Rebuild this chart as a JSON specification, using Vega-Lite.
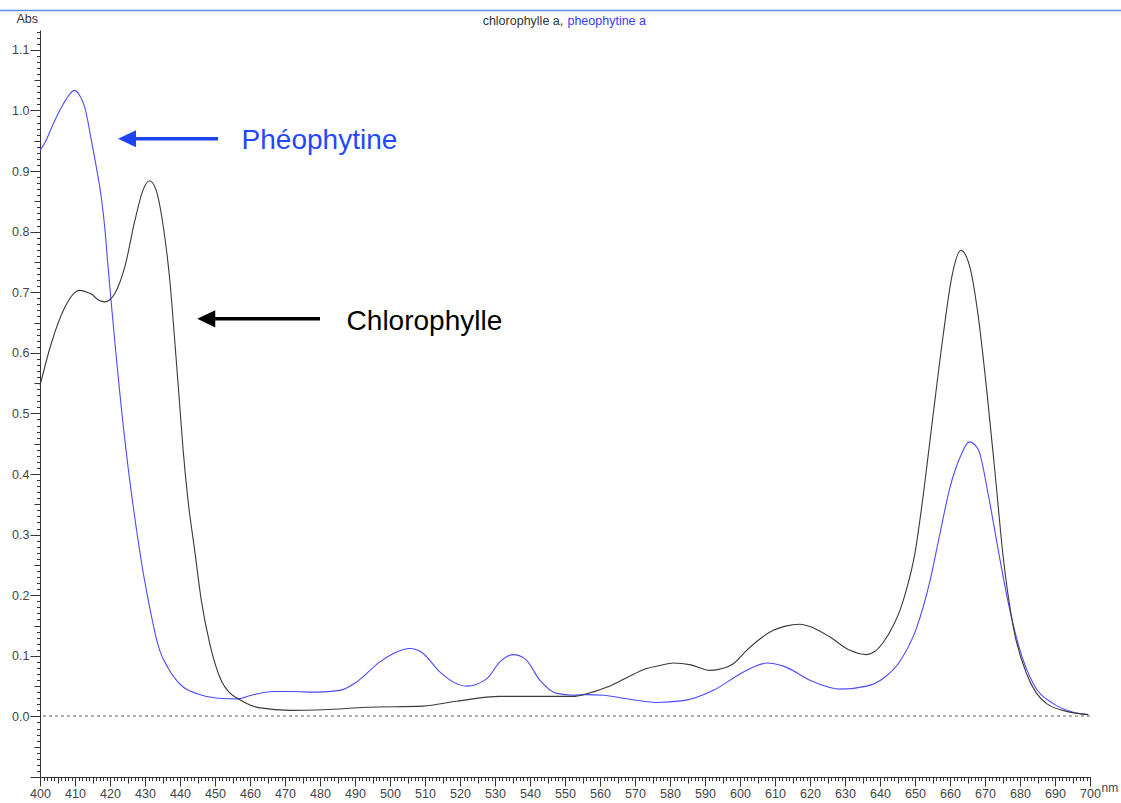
{
  "$schema": "https://vega.github.io/schema/vega-lite/v6.json",
  "width": 1050,
  "height": 747,
  "autosize": "none",
  "padding": {"left": 40, "top": 30, "right": 31, "bottom": 26},
  "background": "white",
  "config": {"view": {"stroke": null}, "font": "Liberation Sans", "axis": {"grid": false}},
  "datasets": {
    "spectra": [
      {"pigment": "pheophytine a", "nm": 400, "abs": 0.934},
      {"pigment": "pheophytine a", "nm": 401.5, "abs": 0.948},
      {"pigment": "pheophytine a", "nm": 403.8, "abs": 0.978},
      {"pigment": "pheophytine a", "nm": 406.7, "abs": 1.011},
      {"pigment": "pheophytine a", "nm": 408.5, "abs": 1.027},
      {"pigment": "pheophytine a", "nm": 409.8, "abs": 1.033},
      {"pigment": "pheophytine a", "nm": 411.3, "abs": 1.025},
      {"pigment": "pheophytine a", "nm": 412.8, "abs": 1.005},
      {"pigment": "pheophytine a", "nm": 414.7, "abs": 0.95},
      {"pigment": "pheophytine a", "nm": 416.1, "abs": 0.906},
      {"pigment": "pheophytine a", "nm": 417.5, "abs": 0.857},
      {"pigment": "pheophytine a", "nm": 418.5, "abs": 0.807},
      {"pigment": "pheophytine a", "nm": 419.4, "abs": 0.745},
      {"pigment": "pheophytine a", "nm": 420.4, "abs": 0.68},
      {"pigment": "pheophytine a", "nm": 421.4, "abs": 0.617},
      {"pigment": "pheophytine a", "nm": 422.4, "abs": 0.557},
      {"pigment": "pheophytine a", "nm": 423.4, "abs": 0.5},
      {"pigment": "pheophytine a", "nm": 424.4, "abs": 0.448},
      {"pigment": "pheophytine a", "nm": 425.4, "abs": 0.4},
      {"pigment": "pheophytine a", "nm": 426.4, "abs": 0.356},
      {"pigment": "pheophytine a", "nm": 427.4, "abs": 0.315},
      {"pigment": "pheophytine a", "nm": 428.4, "abs": 0.276},
      {"pigment": "pheophytine a", "nm": 429.4, "abs": 0.24},
      {"pigment": "pheophytine a", "nm": 430.4, "abs": 0.208},
      {"pigment": "pheophytine a", "nm": 431.4, "abs": 0.178},
      {"pigment": "pheophytine a", "nm": 432.4, "abs": 0.15},
      {"pigment": "pheophytine a", "nm": 433.3, "abs": 0.127},
      {"pigment": "pheophytine a", "nm": 434.2, "abs": 0.109},
      {"pigment": "pheophytine a", "nm": 436.6, "abs": 0.08},
      {"pigment": "pheophytine a", "nm": 440.4, "abs": 0.051},
      {"pigment": "pheophytine a", "nm": 445.1, "abs": 0.037},
      {"pigment": "pheophytine a", "nm": 450.9, "abs": 0.03},
      {"pigment": "pheophytine a", "nm": 456.6, "abs": 0.029},
      {"pigment": "pheophytine a", "nm": 460.4, "abs": 0.035},
      {"pigment": "pheophytine a", "nm": 466.7, "abs": 0.041},
      {"pigment": "pheophytine a", "nm": 472.0, "abs": 0.041},
      {"pigment": "pheophytine a", "nm": 479.0, "abs": 0.04},
      {"pigment": "pheophytine a", "nm": 485.7, "abs": 0.043},
      {"pigment": "pheophytine a", "nm": 490.5, "abs": 0.057},
      {"pigment": "pheophytine a", "nm": 497.1, "abs": 0.09},
      {"pigment": "pheophytine a", "nm": 501.0, "abs": 0.104},
      {"pigment": "pheophytine a", "nm": 505.7, "abs": 0.112},
      {"pigment": "pheophytine a", "nm": 509.0, "abs": 0.106},
      {"pigment": "pheophytine a", "nm": 514.3, "abs": 0.073},
      {"pigment": "pheophytine a", "nm": 518.0, "abs": 0.057},
      {"pigment": "pheophytine a", "nm": 521.9, "abs": 0.05},
      {"pigment": "pheophytine a", "nm": 527.6, "abs": 0.062},
      {"pigment": "pheophytine a", "nm": 531.4, "abs": 0.09},
      {"pigment": "pheophytine a", "nm": 535.2, "abs": 0.102},
      {"pigment": "pheophytine a", "nm": 538.6, "abs": 0.095},
      {"pigment": "pheophytine a", "nm": 542.9, "abs": 0.059},
      {"pigment": "pheophytine a", "nm": 547.6, "abs": 0.038},
      {"pigment": "pheophytine a", "nm": 552.4, "abs": 0.035},
      {"pigment": "pheophytine a", "nm": 556.0, "abs": 0.036},
      {"pigment": "pheophytine a", "nm": 561.0, "abs": 0.035},
      {"pigment": "pheophytine a", "nm": 567.6, "abs": 0.029},
      {"pigment": "pheophytine a", "nm": 576.2, "abs": 0.023},
      {"pigment": "pheophytine a", "nm": 583.8, "abs": 0.026},
      {"pigment": "pheophytine a", "nm": 592.4, "abs": 0.043},
      {"pigment": "pheophytine a", "nm": 600.0, "abs": 0.07},
      {"pigment": "pheophytine a", "nm": 604.0, "abs": 0.082},
      {"pigment": "pheophytine a", "nm": 607.6, "abs": 0.088},
      {"pigment": "pheophytine a", "nm": 612.4, "abs": 0.083},
      {"pigment": "pheophytine a", "nm": 621.0, "abs": 0.057},
      {"pigment": "pheophytine a", "nm": 628.6, "abs": 0.045},
      {"pigment": "pheophytine a", "nm": 636.2, "abs": 0.05},
      {"pigment": "pheophytine a", "nm": 641.0, "abs": 0.063},
      {"pigment": "pheophytine a", "nm": 645.7, "abs": 0.091},
      {"pigment": "pheophytine a", "nm": 650.5, "abs": 0.147},
      {"pigment": "pheophytine a", "nm": 654.3, "abs": 0.224},
      {"pigment": "pheophytine a", "nm": 657.1, "abs": 0.301},
      {"pigment": "pheophytine a", "nm": 660.0, "abs": 0.378},
      {"pigment": "pheophytine a", "nm": 662.9, "abs": 0.428},
      {"pigment": "pheophytine a", "nm": 665.5, "abs": 0.453},
      {"pigment": "pheophytine a", "nm": 668.1, "abs": 0.44},
      {"pigment": "pheophytine a", "nm": 670.9, "abs": 0.367},
      {"pigment": "pheophytine a", "nm": 673.8, "abs": 0.274},
      {"pigment": "pheophytine a", "nm": 676.7, "abs": 0.186},
      {"pigment": "pheophytine a", "nm": 680.0, "abs": 0.109},
      {"pigment": "pheophytine a", "nm": 683.8, "abs": 0.054},
      {"pigment": "pheophytine a", "nm": 689.5, "abs": 0.021},
      {"pigment": "pheophytine a", "nm": 695.2, "abs": 0.007},
      {"pigment": "pheophytine a", "nm": 699.5, "abs": 0.003},
      {"pigment": "chlorophylle a", "nm": 400, "abs": 0.546},
      {"pigment": "chlorophylle a", "nm": 403.2, "abs": 0.615},
      {"pigment": "chlorophylle a", "nm": 407.1, "abs": 0.675},
      {"pigment": "chlorophylle a", "nm": 409.5, "abs": 0.697},
      {"pigment": "chlorophylle a", "nm": 411.3, "abs": 0.703},
      {"pigment": "chlorophylle a", "nm": 413.0, "abs": 0.701},
      {"pigment": "chlorophylle a", "nm": 414.7, "abs": 0.697},
      {"pigment": "chlorophylle a", "nm": 416.5, "abs": 0.688},
      {"pigment": "chlorophylle a", "nm": 418.5, "abs": 0.684},
      {"pigment": "chlorophylle a", "nm": 420.0, "abs": 0.688},
      {"pigment": "chlorophylle a", "nm": 421.3, "abs": 0.697},
      {"pigment": "chlorophylle a", "nm": 422.8, "abs": 0.716},
      {"pigment": "chlorophylle a", "nm": 424.2, "abs": 0.741},
      {"pigment": "chlorophylle a", "nm": 427.1, "abs": 0.818},
      {"pigment": "chlorophylle a", "nm": 429.4, "abs": 0.868},
      {"pigment": "chlorophylle a", "nm": 431.3, "abs": 0.884},
      {"pigment": "chlorophylle a", "nm": 433.2, "abs": 0.868},
      {"pigment": "chlorophylle a", "nm": 435.1, "abs": 0.813},
      {"pigment": "chlorophylle a", "nm": 437.1, "abs": 0.719},
      {"pigment": "chlorophylle a", "nm": 438.5, "abs": 0.62},
      {"pigment": "chlorophylle a", "nm": 439.9, "abs": 0.515},
      {"pigment": "chlorophylle a", "nm": 440.9, "abs": 0.439},
      {"pigment": "chlorophylle a", "nm": 442.3, "abs": 0.356},
      {"pigment": "chlorophylle a", "nm": 444.2, "abs": 0.274},
      {"pigment": "chlorophylle a", "nm": 446.1, "abs": 0.191},
      {"pigment": "chlorophylle a", "nm": 448.5, "abs": 0.12},
      {"pigment": "chlorophylle a", "nm": 451.8, "abs": 0.059},
      {"pigment": "chlorophylle a", "nm": 454.0, "abs": 0.04},
      {"pigment": "chlorophylle a", "nm": 456.6, "abs": 0.029},
      {"pigment": "chlorophylle a", "nm": 460.0, "abs": 0.019},
      {"pigment": "chlorophylle a", "nm": 462.9, "abs": 0.014},
      {"pigment": "chlorophylle a", "nm": 471.4, "abs": 0.01},
      {"pigment": "chlorophylle a", "nm": 481.0, "abs": 0.011},
      {"pigment": "chlorophylle a", "nm": 493.3, "abs": 0.015},
      {"pigment": "chlorophylle a", "nm": 509.5, "abs": 0.017},
      {"pigment": "chlorophylle a", "nm": 519.0, "abs": 0.025},
      {"pigment": "chlorophylle a", "nm": 531.4, "abs": 0.033},
      {"pigment": "chlorophylle a", "nm": 541.0, "abs": 0.033},
      {"pigment": "chlorophylle a", "nm": 552.4, "abs": 0.033},
      {"pigment": "chlorophylle a", "nm": 556.0, "abs": 0.037},
      {"pigment": "chlorophylle a", "nm": 561.9, "abs": 0.048},
      {"pigment": "chlorophylle a", "nm": 567.0, "abs": 0.062},
      {"pigment": "chlorophylle a", "nm": 573.3, "abs": 0.079},
      {"pigment": "chlorophylle a", "nm": 577.0, "abs": 0.084},
      {"pigment": "chlorophylle a", "nm": 581.0, "abs": 0.088},
      {"pigment": "chlorophylle a", "nm": 586.0, "abs": 0.085},
      {"pigment": "chlorophylle a", "nm": 591.4, "abs": 0.076},
      {"pigment": "chlorophylle a", "nm": 595.0, "abs": 0.079},
      {"pigment": "chlorophylle a", "nm": 598.1, "abs": 0.087},
      {"pigment": "chlorophylle a", "nm": 601.9, "abs": 0.109},
      {"pigment": "chlorophylle a", "nm": 605.5, "abs": 0.127},
      {"pigment": "chlorophylle a", "nm": 609.5, "abs": 0.142},
      {"pigment": "chlorophylle a", "nm": 613.0, "abs": 0.149},
      {"pigment": "chlorophylle a", "nm": 617.1, "abs": 0.152},
      {"pigment": "chlorophylle a", "nm": 621.0, "abs": 0.146},
      {"pigment": "chlorophylle a", "nm": 625.7, "abs": 0.131},
      {"pigment": "chlorophylle a", "nm": 631.4, "abs": 0.109},
      {"pigment": "chlorophylle a", "nm": 636.2, "abs": 0.102},
      {"pigment": "chlorophylle a", "nm": 638.5, "abs": 0.107},
      {"pigment": "chlorophylle a", "nm": 640.9, "abs": 0.122},
      {"pigment": "chlorophylle a", "nm": 643.8, "abs": 0.15},
      {"pigment": "chlorophylle a", "nm": 645.7, "abs": 0.175},
      {"pigment": "chlorophylle a", "nm": 647.6, "abs": 0.21},
      {"pigment": "chlorophylle a", "nm": 650.0, "abs": 0.27},
      {"pigment": "chlorophylle a", "nm": 652.4, "abs": 0.367},
      {"pigment": "chlorophylle a", "nm": 655.2, "abs": 0.499},
      {"pigment": "chlorophylle a", "nm": 658.1, "abs": 0.631},
      {"pigment": "chlorophylle a", "nm": 660.5, "abs": 0.725},
      {"pigment": "chlorophylle a", "nm": 663.1, "abs": 0.769},
      {"pigment": "chlorophylle a", "nm": 665.7, "abs": 0.741},
      {"pigment": "chlorophylle a", "nm": 668.1, "abs": 0.659},
      {"pigment": "chlorophylle a", "nm": 670.5, "abs": 0.538},
      {"pigment": "chlorophylle a", "nm": 672.9, "abs": 0.4},
      {"pigment": "chlorophylle a", "nm": 675.2, "abs": 0.263},
      {"pigment": "chlorophylle a", "nm": 678.1, "abs": 0.147},
      {"pigment": "chlorophylle a", "nm": 681.9, "abs": 0.07},
      {"pigment": "chlorophylle a", "nm": 684.5, "abs": 0.04},
      {"pigment": "chlorophylle a", "nm": 687.6, "abs": 0.021},
      {"pigment": "chlorophylle a", "nm": 694.3, "abs": 0.007},
      {"pigment": "chlorophylle a", "nm": 699.5, "abs": 0.003}
    ],
    "labels": [
      {"pigment": "pheophytine a", "label": "Phéophytine", "nm": 457.6, "abs": 0.937, "head": 424.86, "tail": 450.86, "arrow": 0.9533},
      {"pigment": "chlorophylle a", "label": "Chlorophylle", "nm": 487.6, "abs": 0.637, "head": 447.5, "tail": 480.0, "arrow": 0.656}
    ],
    "header": [
      {"pigment": "chlorophylle a", "label": "chlorophylle a,", "nm": 549.5, "abs": 1.1403},
      {"pigment": "pheophytine a", "label": "pheophytine a", "nm": 550.7, "abs": 1.1403}
    ],
    "band": [
      {"from": 388.57, "to": 708.86, "abs": 1.165}
    ]
  },
  "layer": [
    {
      "data": {"name": "spectra"},
      "mark": {"type": "point", "opacity": 0},
      "encoding": {
        "x": {"field": "nm", "type": "quantitative", "scale": {"domain": [400, 700], "nice": false, "zero": false},
          "axis": {"orient": "bottom", "tickCount": 300, "labels": false, "domain": false, "tickSize": 3.5, "tickColor": "#333", "title": null, "grid": false}},
        "y": {"field": "abs", "type": "quantitative", "scale": {"domain": [-0.1, 1.1327], "nice": false, "zero": false},
          "axis": {"orient": "left", "tickCount": 123, "labels": false, "domain": false, "tickSize": 3.5, "tickColor": "#333", "title": null, "grid": false}}
      }
    },
    {
      "data": {"name": "spectra"},
      "mark": {"type": "point", "opacity": 0},
      "encoding": {
        "x": {"field": "nm", "type": "quantitative", "scale": {"domain": [400, 700], "nice": false, "zero": false},
          "axis": {"orient": "bottom", "tickCount": 60, "labels": false, "domain": false, "tickSize": 6, "tickColor": "#333", "title": null, "grid": false}},
        "y": {"field": "abs", "type": "quantitative", "scale": {"domain": [-0.1, 1.1327], "nice": false, "zero": false},
          "axis": {"orient": "left", "tickCount": 24, "labels": false, "domain": false, "tickSize": 6, "tickColor": "#333", "title": null, "grid": false}}
      }
    },
    {
      "data": {"name": "spectra"},
      "mark": {"type": "rule", "color": "#b0b0b0", "strokeDash": [3, 3], "strokeWidth": 1},
      "encoding": {
        "y": {"datum": 0, "type": "quantitative", "scale": {"domain": [-0.1, 1.1327], "nice": false, "zero": false}, "axis": null}
      }
    },
    {
      "data": {"name": "spectra"},
      "mark": {"type": "line", "strokeWidth": 1.1, "interpolate": "monotone"},
      "encoding": {
        "x": {"field": "nm", "type": "quantitative", "scale": {"domain": [400, 700], "nice": false, "zero": false},
          "axis": {"orient": "bottom", "tickCount": 30, "format": "d", "tickSize": 9, "tickColor": "#333", "domainColor": "#333", "labelFontSize": 12.5, "labelColor": "#444", "labelPadding": 1, "labelFlush": false, "labelOverlap": false,
            "title": "nm", "titleX": 1061, "titleY": 14, "titleAlign": "left", "titleBaseline": "alphabetic", "titleFontWeight": "normal", "titleFontSize": 12, "titleColor": "#444", "grid": false}},
        "y": {"field": "abs", "type": "quantitative", "scale": {"domain": [-0.1, 1.1327], "nice": false, "zero": false},
          "axis": {"orient": "left", "tickCount": 12, "labelExpr": "datum.value < -0.05 ? '' : format(datum.value, '.1f')", "tickSize": 10, "tickColor": "#333", "domainColor": "#333", "labelFontSize": 12.5, "labelColor": "#444", "labelPadding": 1, "labelFlush": false, "labelOverlap": false,
            "title": "Abs", "titleAngle": 0, "titleX": -24, "titleY": -12, "titleAlign": "left", "titleBaseline": "middle", "titleFontWeight": "normal", "titleFontSize": 12.5, "titleColor": "#333", "grid": false}},
        "color": {"field": "pigment", "type": "nominal", "scale": {"domain": ["pheophytine a", "chlorophylle a"], "range": ["#4b4bff", "#3a3a3a"]}, "legend": null}
      }
    },
    {
      "data": {"name": "labels"},
      "transform": [{"filter": "datum.pigment == 'pheophytine a'"}],
      "layer": [
        {
          "mark": {"type": "rule", "color": "#1f44f5", "strokeWidth": 3.5},
          "encoding": {
            "x": {"field": "head", "type": "quantitative", "scale": {"domain": [400, 700], "nice": false, "zero": false}, "axis": null},
            "x2": {"field": "tail"},
            "y": {"field": "arrow", "type": "quantitative", "scale": {"domain": [-0.1, 1.1327], "nice": false, "zero": false}, "axis": null}
          }
        },
        {
          "mark": {"type": "point", "shape": "M -1 0 L 1 -0.95 L 1 0.95 Z", "size": 324, "filled": true, "opacity": 1, "color": "#1f44f5", "strokeWidth": 0},
          "encoding": {
            "x": {"field": "head", "type": "quantitative", "scale": {"domain": [400, 700], "nice": false, "zero": false}, "axis": null},
            "y": {"field": "arrow", "type": "quantitative", "scale": {"domain": [-0.1, 1.1327], "nice": false, "zero": false}, "axis": null}
          }
        },
        {
          "mark": {"type": "text", "align": "left", "baseline": "alphabetic", "fontSize": 28, "font": "Liberation Sans", "color": "#2448ff"},
          "encoding": {
            "x": {"field": "nm", "type": "quantitative", "scale": {"domain": [400, 700], "nice": false, "zero": false}, "axis": null},
            "y": {"field": "abs", "type": "quantitative", "scale": {"domain": [-0.1, 1.1327], "nice": false, "zero": false}, "axis": null},
            "text": {"field": "label"}
          }
        }
      ]
    },
    {
      "data": {"name": "labels"},
      "transform": [{"filter": "datum.pigment == 'chlorophylle a'"}],
      "layer": [
        {
          "mark": {"type": "rule", "color": "#000000", "strokeWidth": 3.5},
          "encoding": {
            "x": {"field": "head", "type": "quantitative", "scale": {"domain": [400, 700], "nice": false, "zero": false}, "axis": null},
            "x2": {"field": "tail"},
            "y": {"field": "arrow", "type": "quantitative", "scale": {"domain": [-0.1, 1.1327], "nice": false, "zero": false}, "axis": null}
          }
        },
        {
          "mark": {"type": "point", "shape": "M -1 0 L 1 -0.95 L 1 0.95 Z", "size": 324, "filled": true, "opacity": 1, "color": "#000000", "strokeWidth": 0},
          "encoding": {
            "x": {"field": "head", "type": "quantitative", "scale": {"domain": [400, 700], "nice": false, "zero": false}, "axis": null},
            "y": {"field": "arrow", "type": "quantitative", "scale": {"domain": [-0.1, 1.1327], "nice": false, "zero": false}, "axis": null}
          }
        },
        {
          "mark": {"type": "text", "align": "left", "baseline": "alphabetic", "fontSize": 28, "font": "Liberation Sans", "color": "#000000"},
          "encoding": {
            "x": {"field": "nm", "type": "quantitative", "scale": {"domain": [400, 700], "nice": false, "zero": false}, "axis": null},
            "y": {"field": "abs", "type": "quantitative", "scale": {"domain": [-0.1, 1.1327], "nice": false, "zero": false}, "axis": null},
            "text": {"field": "label"}
          }
        }
      ]
    },
    {
      "data": {"name": "header"},
      "transform": [{"filter": "datum.pigment == 'chlorophylle a'"}],
      "mark": {"type": "text", "align": "right", "baseline": "alphabetic", "fontSize": 12.5, "color": "#333333"},
      "encoding": {
        "x": {"field": "nm", "type": "quantitative", "scale": {"domain": [400, 700], "nice": false, "zero": false}, "axis": null},
        "y": {"field": "abs", "type": "quantitative", "scale": {"domain": [-0.1, 1.1327], "nice": false, "zero": false}, "axis": null},
        "text": {"field": "label"}
      }
    },
    {
      "data": {"name": "header"},
      "transform": [{"filter": "datum.pigment == 'pheophytine a'"}],
      "mark": {"type": "text", "align": "left", "baseline": "alphabetic", "fontSize": 12.5, "color": "#3a3aff"},
      "encoding": {
        "x": {"field": "nm", "type": "quantitative", "scale": {"domain": [400, 700], "nice": false, "zero": false}, "axis": null},
        "y": {"field": "abs", "type": "quantitative", "scale": {"domain": [-0.1, 1.1327], "nice": false, "zero": false}, "axis": null},
        "text": {"field": "label"}
      }
    },
    {
      "data": {"name": "band"},
      "mark": {"type": "rule", "color": "#5b8def", "strokeWidth": 1.6},
      "encoding": {
        "x": {"field": "from", "type": "quantitative", "scale": {"domain": [400, 700], "nice": false, "zero": false}, "axis": null},
        "x2": {"field": "to"},
        "y": {"field": "abs", "type": "quantitative", "scale": {"domain": [-0.1, 1.1327], "nice": false, "zero": false}, "axis": null}
      }
    }
  ],
  "resolve": {"axis": {"x": "independent", "y": "independent"}}
}
